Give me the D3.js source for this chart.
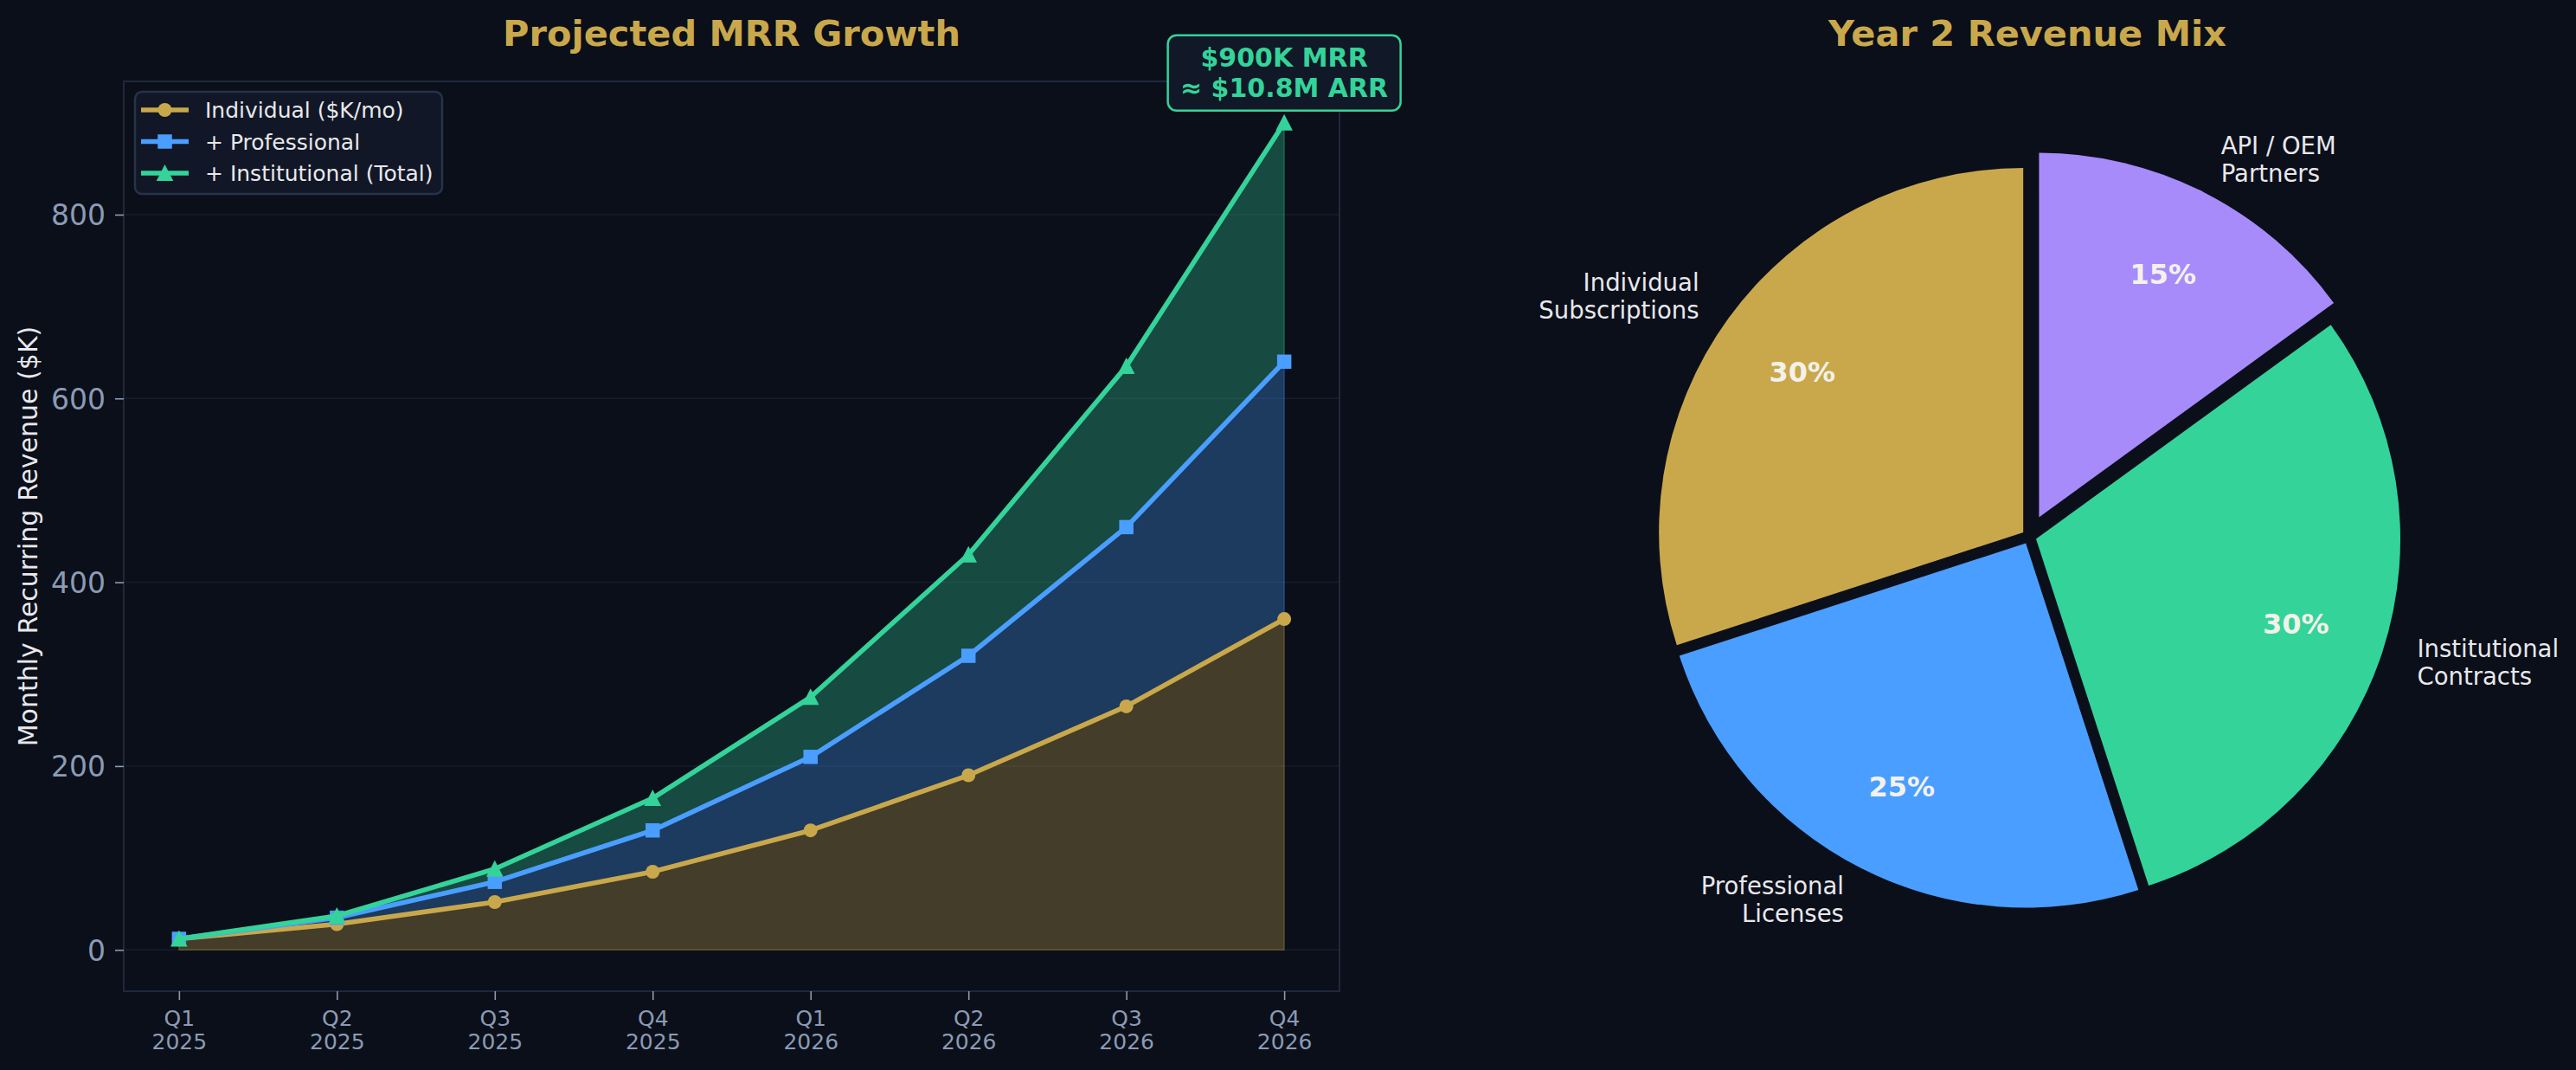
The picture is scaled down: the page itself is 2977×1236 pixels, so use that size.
<!DOCTYPE html>
<html>
<head>
<meta charset="utf-8">
<script src="https://cdn.jsdelivr.net/npm/d3@7"></script>
<style>
  html, body { margin: 0; padding: 0; background: #0b0f1a; }
  svg { display: block; font-family: "DejaVu Sans", sans-serif; }
</style>
</head>
<body>
<svg id="chart" width="2977" height="1236"></svg>
<script>
// ---- data ----
const quarters = ["Q1\n2025", "Q2\n2025", "Q3\n2025", "Q4\n2025", "Q1\n2026", "Q2\n2026", "Q3\n2026", "Q4\n2026"];
const individual = [12, 28, 52, 85, 130, 190, 265, 360];
const professional = [0, 7, 22, 45, 80, 130, 195, 280];
const institutional = [0, 2, 14, 35, 65, 110, 175, 260];
const seriesNames = ["Individual ($K/mo)", "+ Professional", "+ Institutional (Total)"];
const yTicks = [0, 200, 400, 600, 800];

const mixLabels = ["Individual\nSubscriptions", "Professional\nLicenses", "Institutional\nContracts", "API / OEM\nPartners"];
const mixValues = [30, 25, 30, 15];
const mixExplode = [0.02, 0.02, 0.02, 0.06];

// ---- style ----
const BG = "#0b0f1a";
const GOLD = "#c9a84c", BLUE = "#4a9eff", GREEN = "#34d399", PURPLE = "#a78bfa";
const seriesColors = [GOLD, BLUE, GREEN];
const mixColors = [GOLD, BLUE, GREEN, PURPLE];
const TICK = "#8b9bb4";
const SPINE = "#1e293b";
const TEXT = "#e8e8ec";

const svg = d3.select("#chart");
svg.append("rect").attr("width", 2977).attr("height", 1236).attr("fill", BG);

// ================= left: projected MRR =================
const plot = { left: 143, right: 1548, top: 94, bottom: 1145 };
const x = d3.scaleLinear().domain([-0.35, quarters.length - 1 + 0.35]).range([plot.left, plot.right]);
const y = d3.scaleLinear().domain([-45, 945]).range([plot.bottom, plot.top]);

const rows = quarters.map((q, i) => ({ individual: individual[i], professional: professional[i], institutional: institutional[i] }));
const stacked = d3.stack().keys(["individual", "professional", "institutional"])(rows);

// grid
svg.append("g").selectAll("line").data(yTicks).enter().append("line")
  .attr("x1", plot.left).attr("x2", plot.right)
  .attr("y1", d => y(d)).attr("y2", d => y(d))
  .attr("stroke", "#161d2b").attr("stroke-width", 1.5);

// filled bands
const area = d3.area().x((d, i) => x(i)).y0(d => y(d[0])).y1(d => y(d[1]));
svg.append("g").selectAll("path").data(stacked).enter().append("path")
  .attr("d", area)
  .attr("fill", (d, i) => seriesColors[i]).attr("fill-opacity", 0.3)
  .attr("stroke", (d, i) => seriesColors[i]).attr("stroke-opacity", 0.3).attr("stroke-width", 1.5);

// lines + markers
const line = d3.line().x((d, i) => x(i)).y(d => y(d[1]));
const triPath = "M0,-10L9.8,9L-9.8,9Z";
function marker(g, k, color) {
  if (k === 0) g.append("path").attr("d", d3.symbol(d3.symbolCircle, Math.PI * 64)()).attr("fill", color);
  else if (k === 1) g.append("path").attr("d", d3.symbol(d3.symbolSquare, 16.5 * 16.5)()).attr("fill", color);
  else g.append("path").attr("d", triPath).attr("fill", color);
}
stacked.forEach((s, k) => {
  svg.append("path").datum(s).attr("d", line)
    .attr("fill", "none").attr("stroke", seriesColors[k]).attr("stroke-width", 5.6)
    .attr("stroke-linejoin", "round").attr("stroke-linecap", "square");
  s.forEach((d, i) => {
    const g = svg.append("g").attr("transform", `translate(${x(i)},${y(d[1])})`);
    marker(g, k, seriesColors[k]);
  });
});

// spines
svg.append("rect")
  .attr("x", plot.left).attr("y", plot.top)
  .attr("width", plot.right - plot.left).attr("height", plot.bottom - plot.top)
  .attr("fill", "none").attr("stroke", SPINE).attr("stroke-width", 2);

// y axis
const yAxis = svg.append("g").attr("transform", `translate(${plot.left},0)`)
  .call(d3.axisLeft(y).tickValues(yTicks).tickSize(10).tickPadding(11));
yAxis.select(".domain").remove();
yAxis.selectAll("line").attr("stroke", TICK).attr("stroke-width", 1.6);
yAxis.selectAll("text").attr("fill", TICK).attr("font-size", 33)
  .attr("font-family", "DejaVu Sans").attr("dy", "0.36em");

// x axis
const xAxis = svg.append("g").attr("transform", `translate(0,${plot.bottom})`)
  .call(d3.axisBottom(x).tickValues(d3.range(quarters.length)).tickSize(10).tickFormat(""));
xAxis.select(".domain").remove();
xAxis.selectAll("line").attr("stroke", TICK).attr("stroke-width", 1.6);
xAxis.selectAll(".tick").each(function (i) {
  const t = d3.select(this).append("text")
    .attr("fill", TICK).attr("font-size", 25).attr("text-anchor", "middle")
    .attr("font-family", "DejaVu Sans");
  quarters[i].split("\n").forEach((s, j) => {
    t.append("tspan").attr("x", 0).attr("y", 40 + j * 26.5).text(s);
  });
});

// y label
svg.append("text")
  .attr("transform", `translate(42.7,${(plot.top + plot.bottom) / 2}) rotate(-90)`)
  .attr("text-anchor", "middle").attr("fill", TEXT).attr("font-size", 30)
  .text("Monthly Recurring Revenue ($K)");

// title
svg.append("text")
  .attr("x", (plot.left + plot.right) / 2).attr("y", 53)
  .attr("text-anchor", "middle").attr("fill", GOLD)
  .attr("font-size", 41.5).attr("font-weight", "bold")
  .text("Projected MRR Growth");

// legend
const legend = svg.append("g").attr("transform", "translate(156,106)");
legend.append("rect").attr("width", 355).attr("height", 118).attr("rx", 8)
  .attr("fill", "#111726").attr("stroke", "#263349").attr("stroke-width", 2.5);
seriesNames.forEach((name, k) => {
  const row = legend.append("g").attr("transform", `translate(0,${21 + k * 36.5})`);
  row.append("line").attr("x1", 7).attr("x2", 62)
    .attr("stroke", seriesColors[k]).attr("stroke-width", 5.6);
  const m = row.append("g").attr("transform", "translate(34.5,0)");
  marker(m, k, seriesColors[k]);
  row.append("text").attr("x", 81).attr("y", 9)
    .attr("fill", TEXT).attr("font-size", 25).text(name);
});

// annotation on the final total
const lastIdx = quarters.length - 1;
const lastTotal = stacked[2][lastIdx][1];
const ax = x(lastIdx), ayBottom = y(lastTotal) - 14;
const note = svg.append("g");
note.append("rect")
  .attr("x", ax - 134.5).attr("y", ayBottom - 87)
  .attr("width", 269).attr("height", 87).attr("rx", 10)
  .attr("fill", "#111827").attr("stroke", GREEN).attr("stroke-width", 2.5);
const noteText = note.append("text").attr("text-anchor", "middle")
  .attr("fill", GREEN).attr("font-size", 30).attr("font-weight", "bold");
noteText.append("tspan").attr("x", ax).attr("y", ayBottom - 51).text(`$${lastTotal}K MRR`);
noteText.append("tspan").attr("x", ax).attr("y", ayBottom - 16).text(`≈ $${(lastTotal * 12 / 1000).toFixed(1)}M ARR`);

// ================= right: revenue mix pie =================
const cx = 2345, cy = 620, R = 421;
const pie = d3.pie().sort(null).startAngle(0).endAngle(-2 * Math.PI);
const arc = d3.arc().innerRadius(0).outerRadius(R);
const total = d3.sum(mixValues);

svg.append("text")
  .attr("x", 2343).attr("y", 53)
  .attr("text-anchor", "middle").attr("fill", GOLD)
  .attr("font-size", 41.5).attr("font-weight", "bold")
  .text("Year 2 Revenue Mix");

pie(mixValues).forEach((a, i) => {
  const mid = (a.startAngle + a.endAngle) / 2;
  const dx = Math.sin(mid), dy = -Math.cos(mid);
  const off = mixExplode[i] * R;
  const g = svg.append("g").attr("transform", `translate(${cx + dx * off},${cy + dy * off})`);
  g.append("path").attr("d", arc(a)).attr("fill", mixColors[i]);

  g.append("text")
    .attr("x", dx * R * 0.75).attr("y", dy * R * 0.75 + 11.5)
    .attr("text-anchor", "middle").attr("fill", "#f3f1ea")
    .attr("font-size", 32).attr("font-weight", "bold")
    .text(Math.round(a.value / total * 100) + "%");

  const lx = dx * R * 1.1, ly = dy * R * 1.1;
  const t = g.append("text")
    .attr("text-anchor", dx < 0 ? "end" : "start")
    .attr("fill", TEXT).attr("font-size", 27.5);
  mixLabels[i].split("\n").forEach((s, j) => {
    t.append("tspan").attr("x", lx).attr("y", ly - 7 + j * 32).text(s);
  });
});
</script>
</body>
</html>
